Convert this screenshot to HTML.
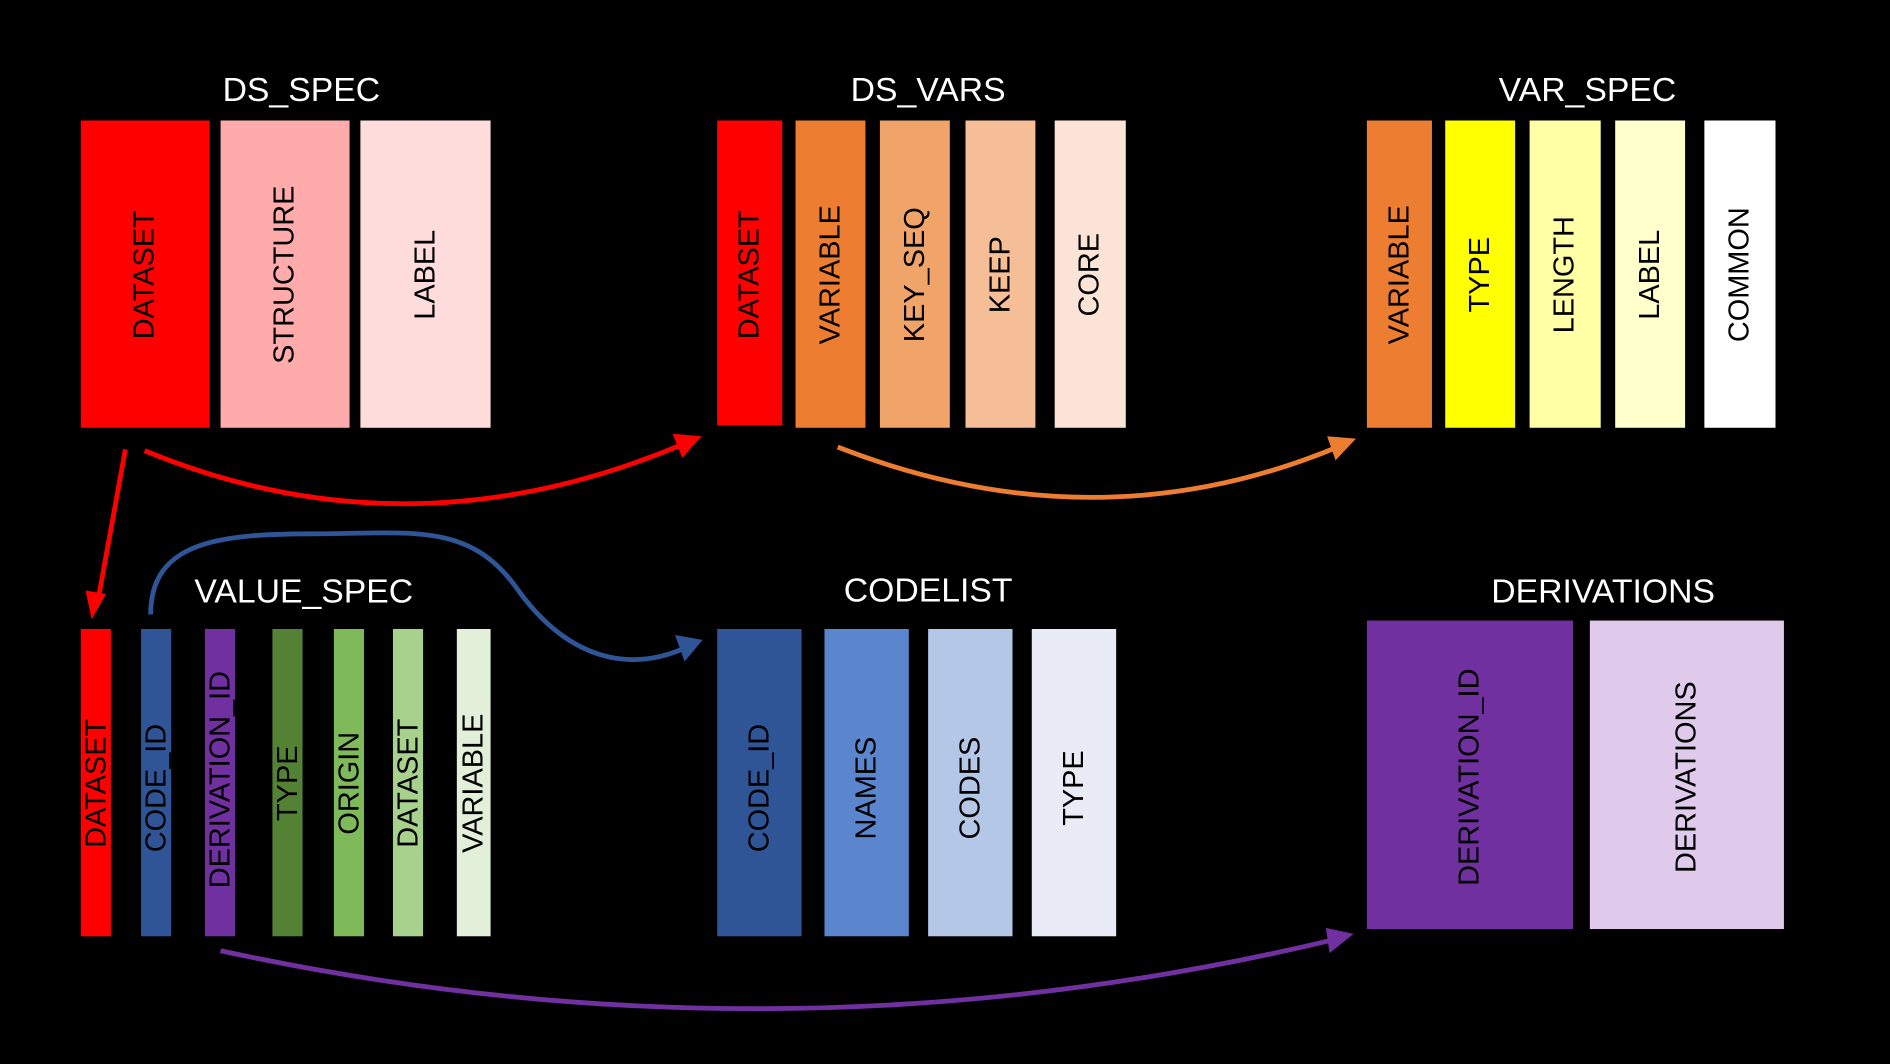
<!DOCTYPE html>
<html><head><meta charset="utf-8"><style>
html,body{margin:0;padding:0;background:#000;width:1890px;height:1064px;overflow:hidden}
svg{display:block}
.t{font-family:"Liberation Sans",sans-serif;font-size:28px;fill:#fff;text-anchor:middle}
.v{font-family:"Liberation Sans",sans-serif;font-size:24px;fill:#000;text-anchor:middle;dominant-baseline:central}
</style></head><body>
<svg width="1890" height="1064" viewBox="0 0 1568 883" preserveAspectRatio="none" xmlns="http://www.w3.org/2000/svg">
<defs>
<marker id="ar" markerWidth="8" markerHeight="8" refX="6" refY="4" orient="auto" markerUnits="userSpaceOnUse" viewBox="0 0 8 8"><path d="M0,0 L8,4 L0,8 z" fill="#ff0000"/></marker>
</defs>
<rect width="1568" height="883" fill="#000"/>
<text class="t" x="250" y="84">DS_SPEC</text>
<text class="t" x="770" y="84">DS_VARS</text>
<text class="t" x="1317" y="84">VAR_SPEC</text>
<text class="t" x="252" y="500">VALUE_SPEC</text>
<text class="t" x="770" y="499">CODELIST</text>
<text class="t" x="1330" y="500">DERIVATIONS</text>

<g>
<rect x="67" y="100" width="107" height="255" fill="#ff0000"/><text class="v" transform="translate(120,228) rotate(-90)">DATASET</text>
<rect x="183" y="100" width="107" height="255" fill="#ffabab"/><text class="v" transform="translate(236,228) rotate(-90)">STRUCTURE</text>
<rect x="299" y="100" width="108" height="255" fill="#ffdcdc"/><text class="v" transform="translate(353,228) rotate(-90)">LABEL</text>

<rect x="595" y="100" width="54" height="253" fill="#ff0000"/><text class="v" transform="translate(622,228) rotate(-90)">DATASET</text>
<rect x="660" y="100" width="58" height="255" fill="#ed7d31"/><text class="v" transform="translate(689,228) rotate(-90)">VARIABLE</text>
<rect x="730" y="100" width="58" height="255" fill="#f1a46a"/><text class="v" transform="translate(759,228) rotate(-90)">KEY_SEQ</text>
<rect x="801" y="100" width="58" height="255" fill="#f5be96"/><text class="v" transform="translate(830,228) rotate(-90)">KEEP</text>
<rect x="875" y="100" width="59" height="255" fill="#fbe4d6"/><text class="v" transform="translate(904,228) rotate(-90)">CORE</text>

<rect x="1134" y="100" width="54" height="255" fill="#ed7d31"/><text class="v" transform="translate(1161,228) rotate(-90)">VARIABLE</text>
<rect x="1199" y="100" width="58" height="255" fill="#ffff00"/><text class="v" transform="translate(1228,228) rotate(-90)">TYPE</text>
<rect x="1269" y="100" width="59" height="255" fill="#ffffa6"/><text class="v" transform="translate(1298,228) rotate(-90)">LENGTH</text>
<rect x="1340" y="100" width="58" height="255" fill="#ffffcc"/><text class="v" transform="translate(1369,228) rotate(-90)">LABEL</text>
<rect x="1414" y="100" width="59" height="255" fill="#ffffff"/><text class="v" transform="translate(1443,228) rotate(-90)">COMMON</text>

<rect x="67" y="522" width="25" height="255" fill="#ff0000"/><text class="v" transform="translate(80,650) rotate(-90)">DATASET</text>
<rect x="117" y="522" width="25" height="255" fill="#2f5597"/><text class="v" transform="translate(130,654) rotate(-90)">CODE_ID</text>
<rect x="170" y="522" width="25" height="255" fill="#7030a0"/><text class="v" transform="translate(183,647) rotate(-90)">DERIVATION_ID</text>
<rect x="226" y="522" width="25" height="255" fill="#548235"/><text class="v" transform="translate(239,650) rotate(-90)">TYPE</text>
<rect x="277" y="522" width="25" height="255" fill="#7fba5a"/><text class="v" transform="translate(290,650) rotate(-90)">ORIGIN</text>
<rect x="326" y="522" width="25" height="255" fill="#a9d18e"/><text class="v" transform="translate(339,650) rotate(-90)">DATASET</text>
<rect x="379" y="522" width="28" height="255" fill="#e2efd9"/><text class="v" transform="translate(393,650) rotate(-90)">VARIABLE</text>

<rect x="595" y="522" width="70" height="255" fill="#2f5597"/><text class="v" transform="translate(630,654) rotate(-90)">CODE_ID</text>
<rect x="684" y="522" width="70" height="255" fill="#5b85cc"/><text class="v" transform="translate(719,654) rotate(-90)">NAMES</text>
<rect x="770" y="522" width="70" height="255" fill="#b4c7e7"/><text class="v" transform="translate(805,654) rotate(-90)">CODES</text>
<rect x="856" y="522" width="70" height="255" fill="#e9ecf7"/><text class="v" transform="translate(891,654) rotate(-90)">TYPE</text>

<rect x="1134" y="515" width="171" height="256" fill="#7030a0"/><text class="v" transform="translate(1219,645) rotate(-90)">DERIVATION_ID</text>
<rect x="1319" y="515" width="161" height="256" fill="#e0caeb"/><text class="v" transform="translate(1399,645) rotate(-90)">DERIVATIONS</text>
</g>

<g fill="none" stroke-width="4">
<path d="M104,373 L81,500" stroke="#ff0000"/>
<path d="M120,374 Q340,465 568,368" stroke="#ff0000"/>
<path d="M695,371 Q910,455 1112,370" stroke="#ed7d31"/>
<path d="M125,510 C125,450 180,443 260,443 C340,443 390,432 430,490 C470,545 520,560 570,537" stroke="#2f5597"/>
<path d="M183,789 Q650,890 1110,779" stroke="#7030a0"/>
</g>
<g stroke="none">
<path d="M76,514 L71,490 L88,493 z" fill="#ff0000"/>
<path d="M582,362 L558,360 L566,380 z" fill="#ff0000"/>
<path d="M1125,364 L1101,362 L1108,382 z" fill="#ed7d31"/>
<path d="M583,531 L560,527 L568,549 z" fill="#2f5597"/>
<path d="M1123,775 L1100,770 L1103,791 z" fill="#7030a0"/>
</g>
</svg>
</body></html>
